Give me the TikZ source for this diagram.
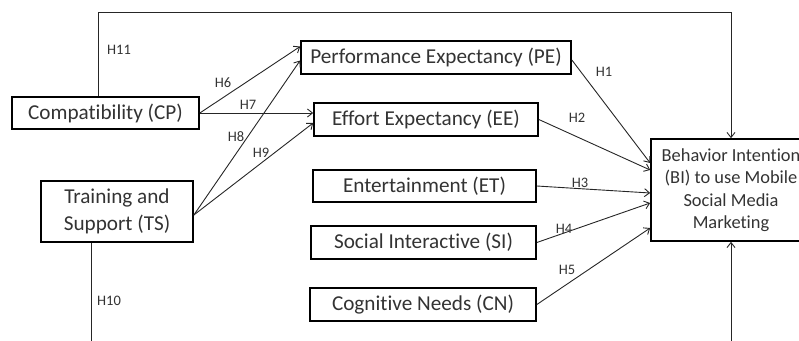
\documentclass[tikz,border=0pt]{standalone}
\usepackage{fontspec}
\setmainfont{Carlito}[Ligatures=NoCommon]
\usetikzlibrary{arrows.meta,calc}
\definecolor{txt}{HTML}{333333}
\definecolor{ln}{HTML}{262626}
\tikzset{
  box/.style={draw=black,line width=1.7pt,inner sep=0pt,text=txt,align=center,
    font=\fontsize{21.2}{26.5}\selectfont},
  conn/.style={draw=ln,line width=0.9pt,-{Straight Barb[length=5pt,width=8pt,line width=0.9pt]}},
  plain/.style={draw=ln,line width=0.9pt},
  hlab/.style={text=txt,inner sep=0pt,font=\fontsize{14.5}{16}\selectfont}
}
\begin{document}
\begin{tikzpicture}[x=1pt,y=-1pt]
\useasboundingbox (0,0) rectangle (799,340);
\clip (0,0) rectangle (799,340);
\node[box,minimum width=187pt,minimum height=32pt] (CP) at (105.5,113) {Compatibility (CP)};
\node[box,minimum width=270pt,minimum height=33pt] (PE) at (436,57.5) {Performance Expectancy (PE)};
\node[box,minimum width=224pt,minimum height=33pt] (EE) at (426,119.5) {Effort Expectancy (EE)};
\node[box,minimum width=223pt,minimum height=32pt] (ET) at (424.5,186) {Entertainment (ET)};
\node[box,minimum width=225pt,minimum height=33pt] (SI) at (423.5,242.5) {Social Interactive (SI)};
\node[box,minimum width=226pt,minimum height=33pt] (CN) at (423,304.5) {Cognitive Needs (CN)};
\node[box,minimum width=152pt,minimum height=61pt] (TS) at (117,211.5) {Training and\\Support (TS)};
\node[box,minimum width=160pt,minimum height=102pt,font=\fontsize{18.4}{22.5}\selectfont] (BI) at (731,190) {Behavior Intention\\(BI) to use Mobile\\Social Media\\Marketing};
% connectors
\draw[conn] (CP.east) -- ($(PE.west)+(0,-11)$);
\draw[conn] (CP.east) -- ($(EE.west)+(0,-6.5)$);
\draw[conn] ($(TS.east)+(0,3.5)$) -- ($(PE.west)+(0,3)$);
\draw[conn] ($(TS.east)+(0,3.5)$) -- ($(EE.west)+(0,3.5)$);
\draw[conn] ($(PE.east)+(0,2.5)$) -- ($(BI.west)+(0,-27)$);
\draw[conn] (EE.east) -- ($(BI.west)+(0,-20)$);
\draw[conn] (ET.east) -- ($(BI.west)+(0,3)$);
\draw[conn] (SI.east) -- ($(BI.west)+(0,13)$);
\draw[conn] (CN.east) -- ($(BI.west)+(0,38)$);
\coordinate (topR) at (731,12);
\coordinate (botB) at (731,345);
\coordinate (botT) at (91,345);
\draw[conn] ($(CP.north)+(-7,0)$) |- (topR) -- (BI.north);
\draw[conn] (botB) -- (BI.south);
\draw[plain] ($(TS.south)+(-26,0)$) -- (botT);
% labels
\node[hlab] (h11) at (119,50) {H11};
\node[hlab] (h6) at (223,83) {H6};
\node[hlab] (h7) at (248,105) {H7};
\node[hlab] (h8) at (236,137) {H8};
\node[hlab] (h9) at (261,153) {H9};
\node[hlab] (h1) at (604,72) {H1};
\node[hlab] (h2) at (577,118) {H2};
\node[hlab] (h3) at (580,183) {H3};
\node[hlab] (h4) at (564,229) {H4};
\node[hlab] (h5) at (567,270) {H5};
\node[hlab] (h10) at (109,301) {H10};
\end{tikzpicture}
\end{document}
